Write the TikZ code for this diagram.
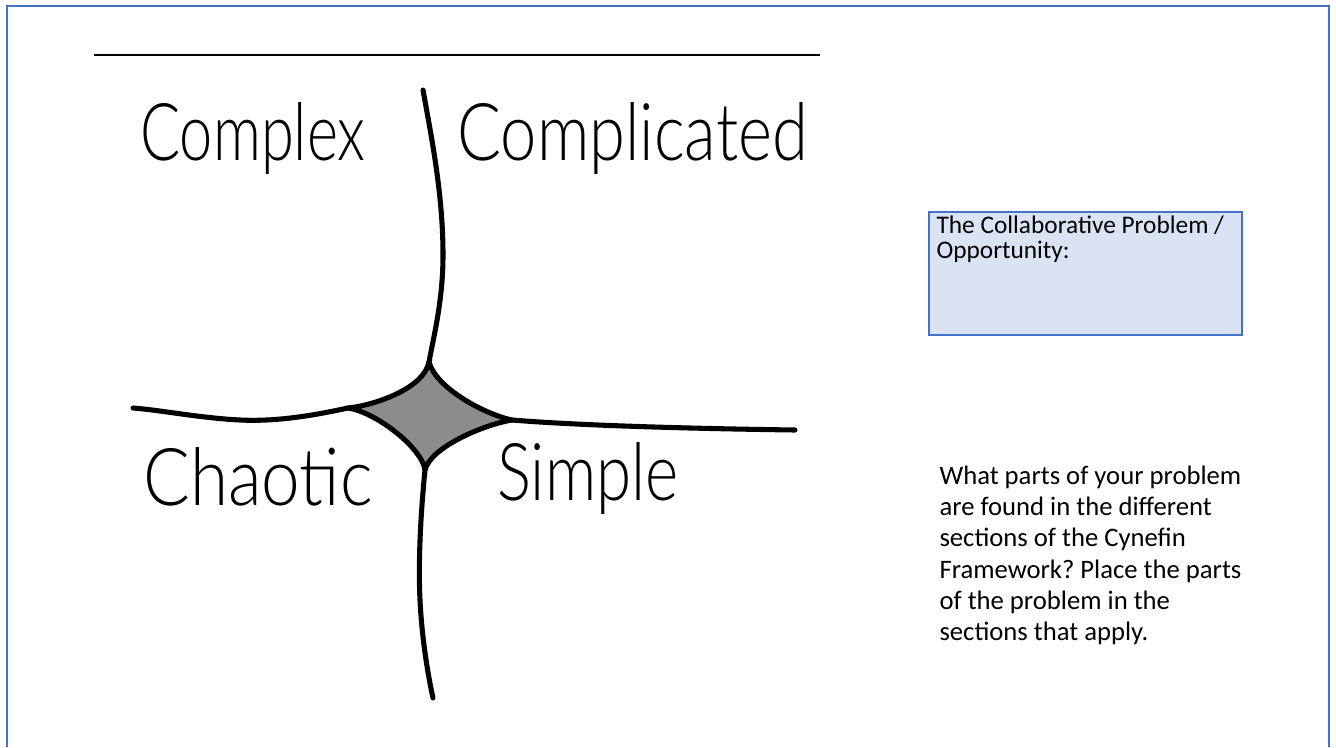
\documentclass[tikz,border=0pt]{standalone}
\usepackage{fontspec}
\setmainfont{Carlito}
\newfontfamily\quadfont{Lato}[UprightFont=* Light]
\usetikzlibrary{positioning}
\frenchspacing

\definecolor{slideblue}{HTML}{4472C4}
\definecolor{notefill}{HTML}{DAE3F3}
\newcommand{\quadword}[2]{\resizebox{#1}{43.5pt}{\quadfont #2}}

\begin{document}
\begin{tikzpicture}[x=0.75pt, y=-0.75pt,
  arm/.style={line width=3.8pt, line cap=round, black},
  quadname/.style={anchor=base west, inner sep=0pt},
  notebox/.style={rectangle, draw=slideblue, fill=notefill, line width=1.1pt,
                  minimum width=234.75pt, minimum height=92.25pt, inner sep=0pt},
  boxtext/.style={anchor=north west, inner sep=0pt, align=left,
                  font=\fontsize{19}{18.75}\selectfont},
  prompt/.style={anchor=north west, inner sep=0pt, align=left,
                 font=\fontsize{20}{23.4}\selectfont}
]
\useasboundingbox (0,0) rectangle (1336,747);

%% --- slide frame ---
\draw[slideblue, line width=1.1pt] (7,747) |- (1329,6) -- (1329,747);

%% --- top rule ---
\draw[line width=2.2pt] (94,55) -- (820,55);

%% --- star tips ---
\coordinate (tipN) at (429,362);
\coordinate (tipE) at (512,420);
\coordinate (tipS) at (425,470);
\coordinate (tipW) at (348,408);

%% --- centre star ---
\filldraw[line width=3.8pt, line join=round, fill=black!45]
  (tipN) .. controls (436,388) and (484,414) .. (tipE)
         .. controls (482,425) and (430,448) .. (tipS)
         .. controls (422,448) and (376,412) .. (tipW)
         .. controls (376,405) and (424,388) .. cycle;

%% --- arms ---
\draw[arm] (tipN) .. controls (434,335) and (443,300) .. (443,255)
                  .. controls (443,195) and (432,140) .. (423,90);
\draw[arm] (tipS) .. controls (421,510) and (418,560) .. (420,600)
                  .. controls (422,640) and (428,675) .. (433,698);
\draw[arm] (tipW) .. controls (320,414) and (280,422) .. (240,420)
                  .. controls (200,418) and (160,410) .. (133,408);
\draw[arm] (tipE) .. controls (560,424) and (650,428) .. (795,430);

%% --- quadrant names ---
\node[quadname] (complex) at (140,160) {\quadword{169pt}{Complex}};
\node[quadname] (complicated) at (457,160) {\quadword{263pt}{Complicated}};
\node[quadname] (chaotic) at (143,505) {\quadword{172pt}{Chaotic}};
\node[quadname] (simple) at (497,500) {\quadword{136pt}{Simple}};

%% --- note box (right) ---
\node[notebox] (oppbox) at (1085.5,273.5) {};
\node[boxtext, below right=3pt and 6pt of oppbox.north west] (opptext)
    {The Collaborative Problem /\\Opportunity:};

%% --- prompt text ---
\node[prompt, below right=97.5pt and 8.25pt of oppbox.south west] (question)
    {What parts of your problem\\
     are found in the different\\
     sections of the Cynefin\\
     Framework? Place the parts\\
     of the problem in the\\
     sections that apply.};

\end{tikzpicture}
\end{document}
